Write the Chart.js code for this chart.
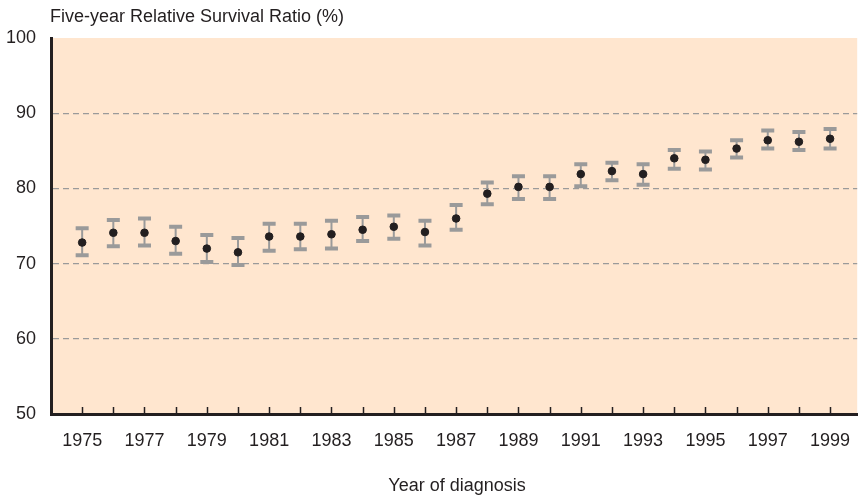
<!DOCTYPE html>
<html>
<head>
<meta charset="utf-8">
<script src="https://cdn.jsdelivr.net/npm/chart.js@4/dist/chart.umd.min.js"></script>
<style>
  html, body { margin: 0; padding: 0; background: #fff; overflow: hidden; }
  #wrap { width: 862px; height: 499px; }
</style>
</head>
<body>
<div id="wrap"><canvas id="chart"></canvas></div>
<script>
// data
const years = [1975, 1976, 1977, 1978, 1979, 1980, 1981, 1982, 1983, 1984, 1985, 1986, 1987,
               1988, 1989, 1990, 1991, 1992, 1993, 1994, 1995, 1996, 1997, 1998, 1999];
const ratio = [72.8, 74.1, 74.1, 73.0, 72.0, 71.5, 73.6, 73.6, 73.9, 74.5, 74.9, 74.2, 76.0,
               79.3, 80.2, 80.2, 81.9, 82.3, 81.9, 84.0, 83.8, 85.3, 86.4, 86.2, 86.6];
const upper = [74.7, 75.8, 76.0, 74.9, 73.8, 73.4, 75.3, 75.3, 75.7, 76.2, 76.4, 75.7, 77.8,
               80.8, 81.6, 81.6, 83.2, 83.4, 83.2, 85.1, 84.9, 86.4, 87.7, 87.5, 87.9];
const lower = [71.1, 72.3, 72.4, 71.3, 70.2, 69.8, 71.7, 71.9, 72.0, 73.0, 73.3, 72.4, 74.5,
               77.9, 78.6, 78.6, 80.3, 81.1, 80.5, 82.6, 82.5, 84.1, 85.3, 85.1, 85.3];
const yTicks = [50, 60, 70, 80, 90, 100];

const FONT = '"Liberation Sans", Arial, sans-serif';
const INK = '#231f20';
const BAR = '#9a9a9a';

// peach background behind the plot
const bgPlugin = {
    id: 'bg',
    beforeDraw(chart) {
        const a = chart.chartArea, ctx = chart.ctx;
        ctx.save();
        ctx.fillStyle = '#ffe6cf';
        ctx.fillRect(a.left, a.top, a.right - a.left, a.bottom - a.top);
        ctx.restore();
    }
};

// error bars + inward x ticks + texts
const errPlugin = {
    id: 'err',
    beforeDatasetsDraw(chart) {
        const ctx = chart.ctx, xs = chart.scales.x, ys = chart.scales.y;
        ctx.save();
        ctx.strokeStyle = BAR;
        years.forEach((yr, i) => {
            const x = xs.getPixelForValue(yr);
            const t = ys.getPixelForValue(upper[i]);
            const b = ys.getPixelForValue(lower[i]);
            ctx.lineWidth = 2;
            ctx.beginPath();
            ctx.moveTo(x, t); ctx.lineTo(x, b);
            ctx.stroke();
            ctx.lineWidth = 4;
            ctx.beginPath();
            ctx.moveTo(x - 6.5, t); ctx.lineTo(x + 6.5, t);
            ctx.moveTo(x - 6.5, b); ctx.lineTo(x + 6.5, b);
            ctx.stroke();
        });
        ctx.restore();
    },
    afterDraw(chart) {
        const ctx = chart.ctx, xs = chart.scales.x, a = chart.chartArea;
        ctx.save();
        ctx.strokeStyle = INK;
        ctx.lineWidth = 1.5;
        years.forEach(yr => {
            const x = Math.round(xs.getPixelForValue(yr)) + 0.5;
            ctx.beginPath();
            ctx.moveTo(x, a.bottom);
            ctx.lineTo(x, a.bottom - 7);
            ctx.stroke();
        });
        ctx.fillStyle = INK;
        ctx.font = '18px ' + FONT;
        ctx.textBaseline = 'middle';
        ctx.textAlign = 'left';
        ctx.fillText('Five-year Relative Survival Ratio (%)', a.left - 1, 17);
        ctx.textAlign = 'center';
        ctx.fillText('Year of diagnosis', 457, 486);
        ctx.restore();
    }
};

new Chart(document.getElementById('chart'), {
    type: 'scatter',
    data: {
        datasets: [{
            label: 'Five-year relative survival ratio',
            data: years.map((yr, i) => ({ x: yr, y: ratio[i] })),
            backgroundColor: INK,
            borderColor: INK,
            pointRadius: 3.8,
            pointHoverRadius: 3.8
        }]
    },
    options: {
        responsive: true,
        maintainAspectRatio: false,
        animation: false,
        layout: { padding: { top: 38, right: 0, left: 0, bottom: 0 } },
        plugins: {
            legend: { display: false },
            tooltip: { enabled: false }
        },
        scales: {
            x: {
                type: 'linear',
                min: 1974,
                max: 1999.87,
                afterBuildTicks: s => { s.ticks = years.map(v => ({ value: v })); },
                afterFit: s => { s.height = 85; s.paddingLeft = 0; s.paddingRight = 0; },
                grid: { display: false, drawTicks: false },
                border: { display: true, color: INK, width: 3 },
                ticks: {
                    padding: 16,
                    color: INK,
                    font: { family: FONT, size: 18 },
                    maxRotation: 0,
                    autoSkip: false,
                    callback: v => (v % 2 === 1 ? String(v) : '')
                }
            },
            y: {
                min: 50,
                max: 100,
                afterBuildTicks: s => { s.ticks = yTicks.map(v => ({ value: v })); },
                afterFit: s => { s.width = 51; },
                grid: {
                    drawTicks: false,
                    lineWidth: 1.3,
                    color: c => (c.tick.value === 50 || c.tick.value === 100) ? 'rgba(0,0,0,0)' : '#9a9a9a'
                },
                border: { display: true, color: INK, width: 3, dash: [6, 4] },
                ticks: {
                    padding: 15,
                    color: INK,
                    font: { family: FONT, size: 18 }
                }
            }
        }
    },
    plugins: [bgPlugin, errPlugin]
});
</script>
</body>
</html>
